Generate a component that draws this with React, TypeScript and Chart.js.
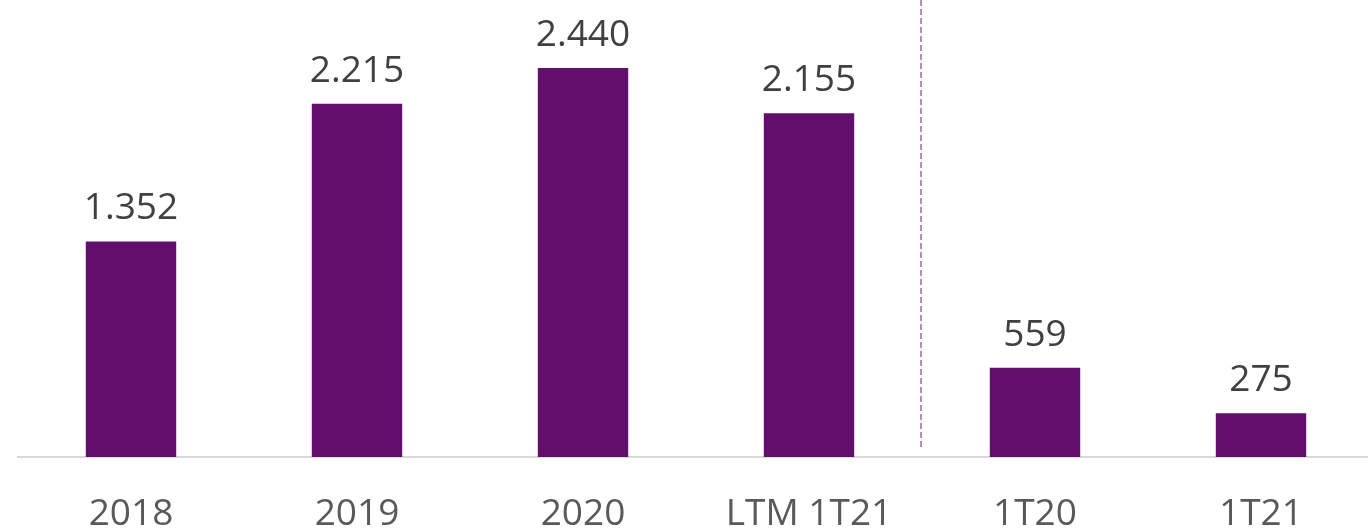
import React, { useEffect, useRef } from "react";
import { Chart, registerables } from "chart.js";

Chart.register(...registerables);

const categories: string[] = ["2018", "2019", "2020", "LTM 1T21", "1T20", "1T21"];
const values: number[] = [1352, 2215, 2440, 2155, 559, 275];
const barColor = "#620E6D";

function fmt(v: number): string {
  return String(v).replace(/\B(?=(\d{3})+(?!\d))/g, ".");
}

const FONT = "37px 'Open Sans'";

const labelsPlugin = {
  id: "customLabels",
  afterDatasetsDraw(chart: any) {
    const { ctx, chartArea } = chart;
    const xs = chart.scales.x;
    const meta = chart.getDatasetMeta(0);
    ctx.save();
    ctx.font = FONT;
    ctx.textAlign = "center";
    ctx.textBaseline = "alphabetic";
    meta.data.forEach((bar: any, i: number) => {
      ctx.fillStyle = "#404040";
      ctx.fillText(fmt(values[i]), bar.x, bar.y - 22);
      ctx.fillStyle = "#595959";
      ctx.fillText(categories[i], xs.getPixelForValue(i), chartArea.bottom + 68);
    });
    // dashed separator between LTM and quarterly bars
    const sepX = (xs.getPixelForValue(3) + xs.getPixelForValue(4)) / 2 - 1;
    ctx.strokeStyle = "#A064B4";
    ctx.lineWidth = 1.5;
    ctx.setLineDash([6, 3]);
    ctx.beginPath();
    ctx.moveTo(sepX, chartArea.top);
    ctx.lineTo(sepX, chartArea.bottom - 8);
    ctx.stroke();
    ctx.restore();
  },
};

export default function App() {
  const ref = useRef<HTMLCanvasElement | null>(null);
  useEffect(() => {
    if (!ref.current) return;
    const chart = new Chart(ref.current, {
      type: "bar",
      data: {
        labels: categories,
        datasets: [
          {
            data: values,
            backgroundColor: barColor,
            barPercentage: 0.8,
            categoryPercentage: 0.5,
          },
        ],
      },
      options: {
        animation: false,
        responsive: false,
        layout: { padding: { left: 18, right: 0, top: 0, bottom: 64 } },
        plugins: { legend: { display: false }, tooltip: { enabled: false } },
        scales: {
          x: {
            grid: { display: false },
            ticks: { display: false },
            border: { display: true, color: "#D9D9D9", width: 2 },
          },
          y: {
            display: false,
            min: 0,
            max: 2866,
          },
        },
      },
      plugins: [labelsPlugin],
    });
    return () => chart.destroy();
  }, []);
  return (
    <div
      style={{
        position: "absolute",
        left: 0,
        top: 0,
        width: 1368,
        height: 529,
        overflow: "hidden",
        background: "#fff",
      }}
    >
      <canvas ref={ref} width={1374} height={529} style={{ display: "block" }} />
    </div>
  );
}
